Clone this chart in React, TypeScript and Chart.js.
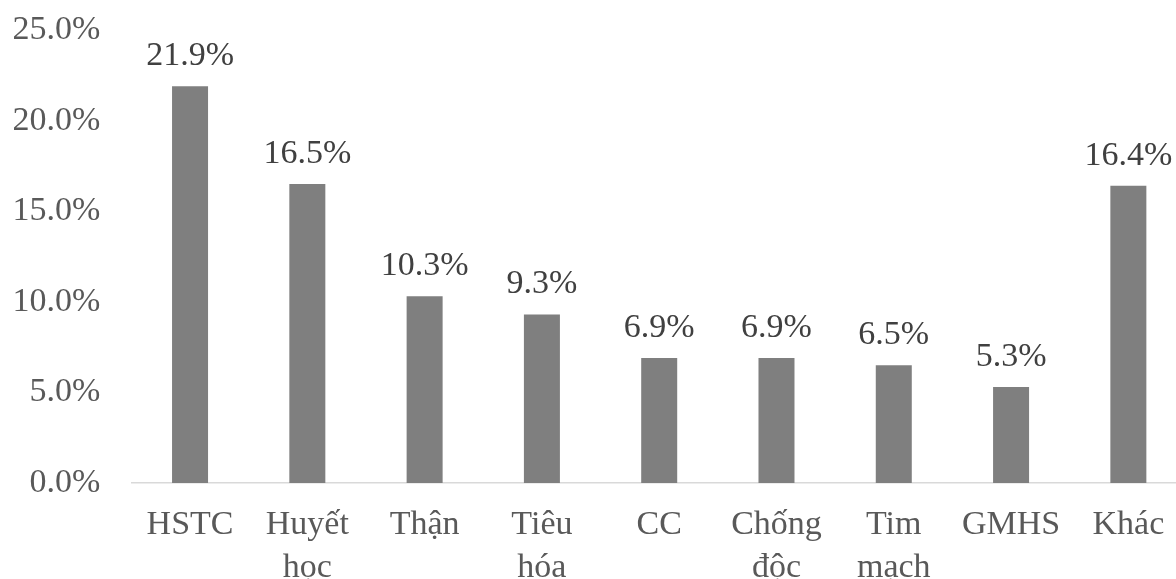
import React, { useEffect, useRef } from "react";
import { Chart, registerables } from "chart.js";

Chart.register(...registerables);

const categories: (string | string[])[] = [
  "HSTC",
  ["Huyết", "học"],
  "Thận",
  ["Tiêu", "hóa"],
  "CC",
  ["Chống", "độc"],
  ["Tim", "mạch"],
  "GMHS",
  "Khác",
];
const values: number[] = [21.9, 16.5, 10.3, 9.3, 6.9, 6.9, 6.5, 5.3, 16.4];
const yTicks: number[] = [0, 5, 10, 15, 20, 25];

const FONT = "'Liberation Serif', 'Times New Roman', serif";

const dataLabelPlugin = {
  id: "dataLabels",
  afterDatasetsDraw(chart: any) {
    const ctx = chart.ctx;
    const meta = chart.getDatasetMeta(0);
    ctx.save();
    ctx.font = `34px ${FONT}`;
    ctx.fillStyle = "#404040";
    ctx.textAlign = "center";
    ctx.textBaseline = "alphabetic";
    meta.data.forEach((bar: any, i: number) => {
      ctx.fillText(values[i].toFixed(1) + "%", bar.x, bar.y - 21);
    });
    ctx.restore();
  },
};

export default function App() {
  const ref = useRef<HTMLCanvasElement | null>(null);
  useEffect(() => {
    if (!ref.current) return;
    const chart = new Chart(ref.current, {
      type: "bar",
      data: {
        labels: categories,
        datasets: [
          {
            data: values,
            backgroundColor: "#7f7f7f",
            barPercentage: 0.307,
            categoryPercentage: 1,
          },
        ],
      },
      options: {
        animation: false,
        responsive: false,
        maintainAspectRatio: false,
        layout: { padding: { top: 30, right: 0, bottom: 0, left: 0 } },
        plugins: {
          legend: { display: false },
          tooltip: { enabled: false },
        },
        scales: {
          x: {
            afterFit: (s: any) => {
              s.height = 96;
            },
            grid: { display: false, drawTicks: false },
            border: { display: true, color: "#d9d9d9", width: 1.5 },
            ticks: {
              color: "#595959",
              font: { family: FONT, size: 34, lineHeight: 1.27 },
              padding: 20.3,
              maxRotation: 0,
              autoSkip: false,
            },
          },
          y: {
            min: 0,
            max: 25,
            afterFit: (s: any) => {
              s.width = 131.4;
              s.paddingTop = 0;
              s.paddingBottom = 0;
            },
            afterBuildTicks: (s: any) => {
              s.ticks = yTicks.map((v) => ({ value: v }));
            },
            grid: { display: false, drawTicks: false },
            border: { display: false },
            ticks: {
              color: "#595959",
              font: { family: FONT, size: 34 },
              padding: 31,
              callback: (v: any) => Number(v).toFixed(1) + "%",
            },
          },
        },
      },
      plugins: [dataLabelPlugin],
    });
    return () => chart.destroy();
  }, []);
  return (
    <div
      style={{
        position: "fixed",
        left: 0,
        top: 0,
        width: 1176,
        height: 579,
        overflow: "hidden",
        background: "#fff",
      }}
    >
      <canvas ref={ref} width={1187} height={579} style={{ display: "block" }} />
    </div>
  );
}
